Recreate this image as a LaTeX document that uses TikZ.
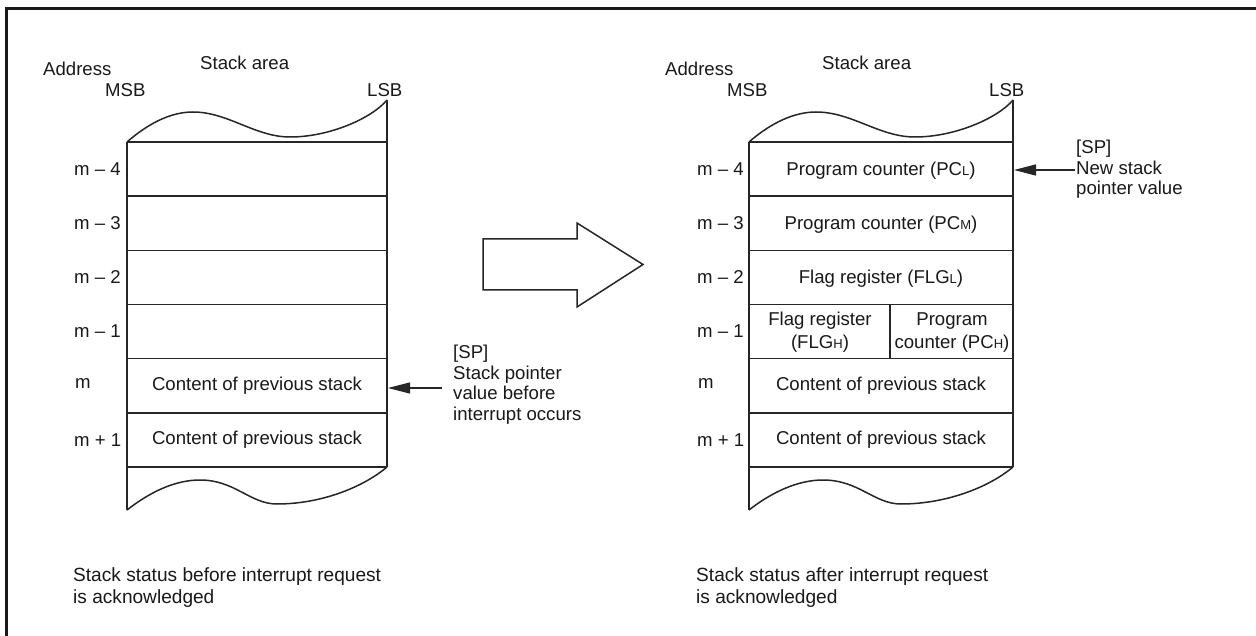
\documentclass[tikz,border=0pt]{standalone}
\usepackage{fontspec}
\setmainfont{Liberation Sans}
\usetikzlibrary{arrows.meta}
\newcommand{\lsub}[1]{{\fontsize{13}{13}\selectfont #1}}
\begin{document}
\begin{tikzpicture}[x=1pt,y=-1pt,
  line/.style={draw=black!85, line width=1.5pt},
  txt/.style={inner sep=0pt, font=\fontsize{18.6}{20.7}\selectfont, text=black!90},
  lbl/.style={txt, anchor=base west},
  cell/.style={txt, anchor=base, align=center},
  note/.style={txt, anchor=base west, align=left},
  ptr/.style={draw=black!85, line width=1.2pt, -{Triangle[length=22pt,width=11pt]}},
]
\useasboundingbox (0,0) rectangle (1256,636);
\fill[white] (0,0) rectangle (1256,636);
% frame
\draw[line width=2.6pt, black!90] (6.5,645) -- (6.5,8.7) -- (1265,8.7);

% ---------- left stack ----------
\draw[line] (127,142) .. controls (150,122) and (172,112) .. (193,112)
  .. controls (228,112) and (255,137) .. (290,137)
  .. controls (330,137) and (372,118) .. (387,100);
\draw[line] (127,510) .. controls (150,492) and (175,480) .. (200,480)
  .. controls (235,480) and (250,504) .. (277,504)
  .. controls (320,504) and (362,488) .. (387,467);
\draw[line] (127,142) -- (127,510);
\draw[line] (387,100) -- (387,467);
\foreach \y in {142,196.2,250.3,304.5,358.7,412.8,467}
  \draw[line] (127,\y) -- (387,\y);

% ---------- right stack ----------
\draw[line] (749,142) .. controls (772,122) and (795,112) .. (816,112)
  .. controls (852,112) and (879,137) .. (915,137)
  .. controls (955,137) and (998,118) .. (1013,100);
\draw[line] (749,510) .. controls (772,492) and (798,480) .. (823,480)
  .. controls (859,480) and (874,504) .. (901,504)
  .. controls (945,504) and (988,488) .. (1013,467);
\draw[line] (749,142) -- (749,510);
\draw[line] (1013,100) -- (1013,467);
\foreach \y in {142,196.2,250.3,304.5,358.7,412.8,467}
  \draw[line] (749,\y) -- (1013,\y);
\draw[line] (890,304.5) -- (890,358.7);

% ---------- headers ----------
\node[lbl] (addrL) at (43,76) {Address};
\node[lbl] (msbL) at (105,97) {MSB};
\node[lbl] (areaL) at (200,70) {Stack area};
\node[lbl] (lsbL) at (367,97) {LSB};
\node[lbl] (addrR) at (665,76) {Address};
\node[lbl] (msbR) at (727,97) {MSB};
\node[lbl] (areaR) at (822,70) {Stack area};
\node[lbl] (lsbR) at (989,97) {LSB};

% ---------- address labels ----------
\node[lbl] (l4) at (74,175.5) {m -- 4};
\node[lbl] (l3) at (74,229.5) {m -- 3};
\node[lbl] (l2) at (74,283.5) {m -- 2};
\node[lbl] (l1) at (74,337.5) {m -- 1};
\node[lbl] (l0) at (75,388.5) {m};
\node[lbl] (lp) at (74,446.5) {m + 1};
\node[lbl] (r4) at (697,175.5) {m -- 4};
\node[lbl] (r3) at (697,229.5) {m -- 3};
\node[lbl] (r2) at (697,283.5) {m -- 2};
\node[lbl] (r1) at (697,337.5) {m -- 1};
\node[lbl] (r0) at (698,388.5) {m};
\node[lbl] (rp) at (697,446.5) {m + 1};

% ---------- cell contents ----------
\node[cell] (cL0) at (257,390) {Content of previous stack};
\node[cell] (cLp) at (257,444) {Content of previous stack};
\node[cell] (cR4) at (881,175.5) {Program counter (PC\lsub{L})};
\node[cell] (cR3) at (881,229.5) {Program counter (PC\lsub{M})};
\node[cell] (cR2) at (881,283.5) {Flag register (FLG\lsub{L})};
\node[cell] (cR1a) at (820,348.5) {Flag register\\[2.5pt](FLG\lsub{H})};
\node[cell] (cR1b) at (952,348.5) {Program\\[2.5pt]counter (PC\lsub{H})};
\node[cell] (cR0) at (881,390) {Content of previous stack};
\node[cell] (cRp) at (881,444) {Content of previous stack};

% ---------- stack pointer notes ----------
\node[note] (spL) at (453,420.5) {[SP]\\Stack pointer\\value before\\interrupt occurs};
\coordinate (spLfrom) at (442,388);
\coordinate (spLto) at (388,388);
\draw[ptr] (spLfrom) -- (spLto);
\node[note] (spR) at (1076,195) {[SP]\\New stack\\pointer value};
\coordinate (spRfrom) at (1075,170);
\coordinate (spRto) at (1014,170);
\draw[ptr] (spRfrom) -- (spRto);

% ---------- block arrow ----------
\draw[line] (483,239) -- (577,239) -- (577,223) -- (643,264.5) -- (577,307)
  -- (577,290) -- (483,290) -- cycle;

% ---------- captions ----------
\node[note, font=\fontsize{19.1}{22}\selectfont] (capL) at (73,603) {Stack status before interrupt request\\is acknowledged};
\node[note, font=\fontsize{19.1}{22}\selectfont] (capR) at (696,603) {Stack status after interrupt request\\is acknowledged};
\end{tikzpicture}
\end{document}
